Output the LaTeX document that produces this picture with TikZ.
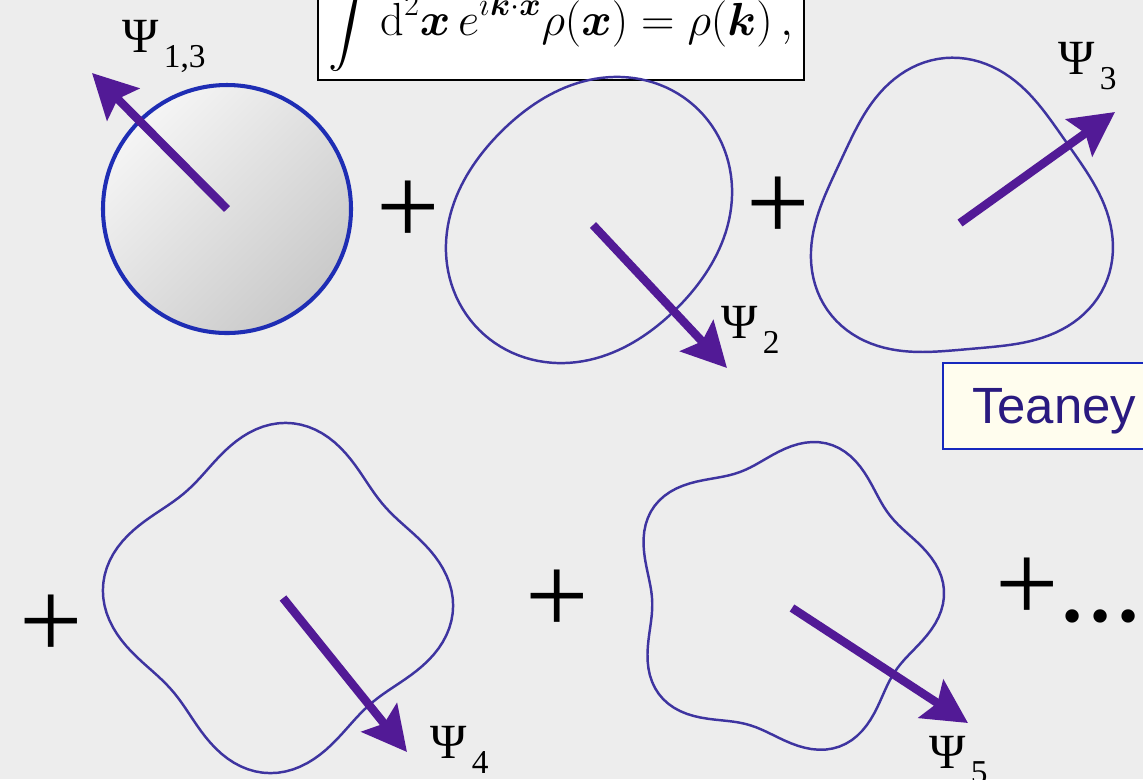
\RequirePackage{fix-cm}
\documentclass[tikz,border=0pt]{standalone}
\usepackage{amsmath}
\usepackage{fontspec}
\usepackage{tikz}
\usetikzlibrary{arrows.meta}
\newfontfamily\arialfont{Liberation Sans}
\newfontfamily\timesfont{Liberation Serif}
\definecolor{bgpaper}{RGB}{237,237,237}
\definecolor{ringblue}{RGB}{30,45,180}
\definecolor{blobline}{RGB}{62,52,160}
\definecolor{vecpurple}{RGB}{82,26,150}
\definecolor{notefill}{RGB}{255,253,238}
\definecolor{noteline}{RGB}{22,40,190}
\definecolor{notetext}{RGB}{42,26,128}
\newcommand{\psilabel}[1]{Ψ\raisebox{-0.32em}{\fontsize{19}{20}\selectfont\,#1}}

\begin{document}
\begin{tikzpicture}[x=0.02cm, y=-0.02cm, every node/.style={inner sep=0pt, outer sep=0pt}]
  \tikzstyle{blob}=[draw=blobline, line width=1.4pt, line join=round]
  \tikzstyle{vec}=[draw=vecpurple, line width=4.8pt, -{Stealth[length=0.88cm, width=0.9cm, inset=0.15cm]}]
  \tikzstyle{psi}=[anchor=base west, font=\timesfont\fontsize{28}{32}\selectfont]
  \tikzstyle{plus}=[anchor=base, font=\timesfont\fontsize{64}{72}\selectfont]
  \useasboundingbox (0,0) rectangle (1143,779);
  \clip (0,0) rectangle (1143,779);
  \fill[bgpaper] (0,0) rectangle (1143,779);

  \node[draw=black, fill=white, line width=1.1pt, inner xsep=0.22cm, inner ysep=0.16cm, anchor=south] (formula) at (561,80)
    {\fontsize{26.4}{30}\selectfont$\displaystyle\int \mathrm{d}^2\boldsymbol{x}\, e^{i\boldsymbol{k}\cdot\boldsymbol{x}}\rho(\boldsymbol{x}) = \rho(\boldsymbol{k})\,,$};

  \coordinate (c1) at (227,209);
  \shade[top color=gray!8, bottom color=gray!42, shading angle=45] (c1) circle[radius=124];
  \draw[ringblue, line width=2.3pt] (c1) circle[radius=124];

  \foreach \n/\cx/\cy/\rr/\ee/\ph in {2/589/220/140/0.11/-45, 3/959/218/146/0.10/-95, 4/278/598/158/0.11/-86, 5/785/597/146/0.09/-74}
    \draw[blob, shift={(\cx,\cy)}] plot[domain=0:360, samples=145, variable=\t] (\t:{\rr*(1+\ee*cos(\n*(\t-\ph)))}) -- cycle;

  \coordinate (t1) at (92,73);
  \coordinate (c2) at (593,225);
  \coordinate (t2) at (727,368);
  \coordinate (c3) at (960,223);
  \coordinate (t3) at (1115,112);
  \coordinate (c4) at (283,598);
  \coordinate (t4) at (407,752);
  \coordinate (c5) at (792,608);
  \coordinate (t5) at (968,723);
  \foreach \i in {1,...,5}
    \draw[vec] (c\i) -- (t\i);

  \node[psi] (psi13) at (122,52) {\psilabel{1,3}};
  \node[psi] (psi2) at (721,338) {\psilabel{2}};
  \node[psi] (psi3) at (1058,74) {\psilabel{3}};
  \node[psi] (psi4) at (430,758) {\psilabel{4}};
  \node[psi] (psi5) at (929,768) {\psilabel{5}};

  \node[plus] (plus1) at (408,244) {+};
  \node[plus] (plus2) at (778,240) {+};
  \node[plus] (plus3) at (51,658) {+};
  \node[plus] (plus4) at (557,633) {+};
  \node[plus, anchor=base west] (plus5) at (995,621) {+...};

  \node[draw=noteline, fill=notefill, line width=1.5pt, anchor=north west, minimum height=1.72cm, text width=5cm, inner xsep=0.58cm, text depth=0pt, align=left, font=\arialfont\fontsize{29}{34}\selectfont, text=notetext] (teaney) at (943,363) {Teaney};
\end{tikzpicture}
\end{document}
